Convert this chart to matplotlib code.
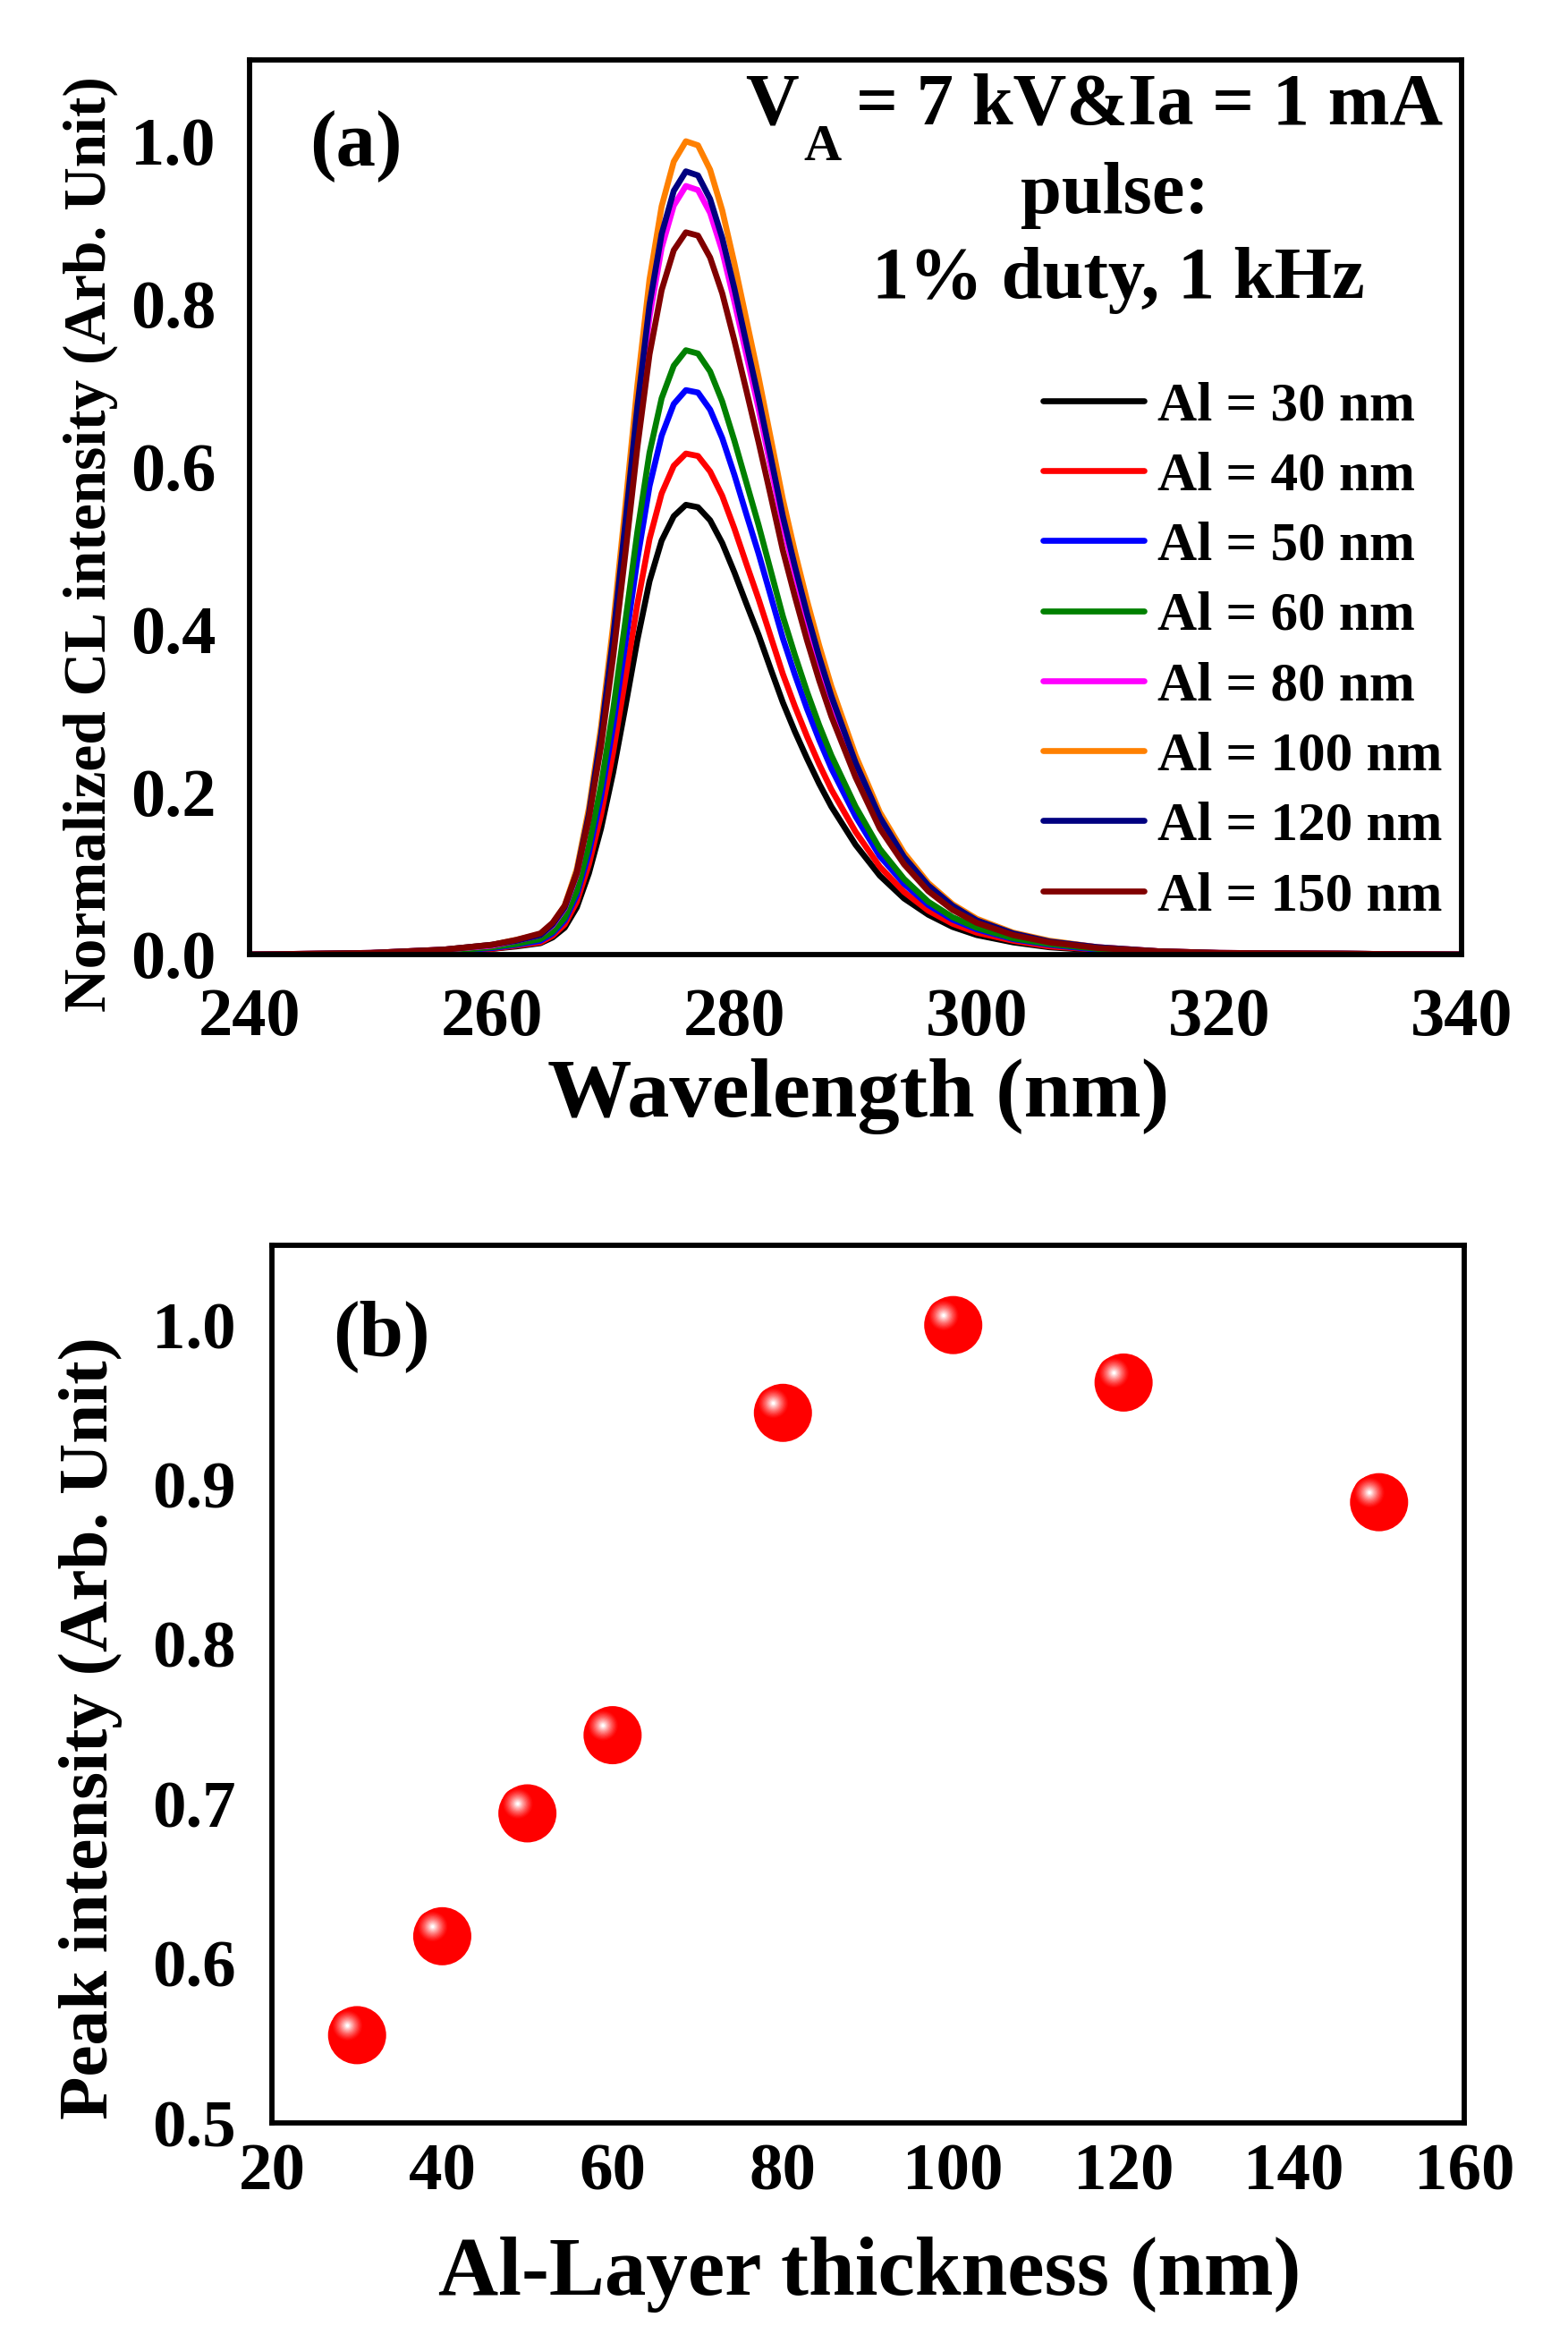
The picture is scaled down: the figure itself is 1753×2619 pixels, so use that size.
import matplotlib
matplotlib.use('Agg')
import matplotlib.pyplot as plt
import matplotlib.transforms as mtransforms
from matplotlib.ticker import FormatStrFormatter
import numpy as np

plt.rcParams['font.family'] = ['Liberation Serif', 'DejaVu Serif']
plt.rcParams['font.weight'] = 'bold'

# ---------------- data: panel (a) CL spectra ----------------
wavelength = [240, 250, 256, 260, 262, 264, 265, 266, 267, 268, 269, 270, 271, 272,
              273, 274, 275, 276, 277, 278, 279, 280, 281, 282, 283, 284, 285, 286,
              287, 288, 290, 292, 294, 296, 298, 300, 303, 306, 310, 315, 320, 330, 340]

cl_30 = [0.000, 0.001, 0.003, 0.007, 0.010, 0.014, 0.021, 0.033, 0.058, 0.100, 0.155, 0.224,
         0.304, 0.387, 0.459, 0.509, 0.539, 0.553, 0.550, 0.534, 0.506, 0.470, 0.431, 0.393,
         0.351, 0.310, 0.274, 0.241, 0.210, 0.182, 0.135, 0.097, 0.069, 0.049, 0.034, 0.024,
         0.015, 0.009, 0.005, 0.002, 0.001, 0.001, 0.000]
cl_40 = [0.000, 0.001, 0.004, 0.007, 0.011, 0.015, 0.023, 0.037, 0.065, 0.111, 0.172, 0.249,
         0.339, 0.431, 0.511, 0.567, 0.601, 0.616, 0.613, 0.594, 0.564, 0.524, 0.480, 0.437,
         0.391, 0.345, 0.305, 0.268, 0.234, 0.203, 0.151, 0.108, 0.077, 0.054, 0.038, 0.027,
         0.017, 0.010, 0.006, 0.002, 0.001, 0.001, 0.000]
cl_50 = [0.000, 0.001, 0.004, 0.008, 0.012, 0.017, 0.026, 0.042, 0.073, 0.125, 0.194, 0.281,
         0.382, 0.486, 0.576, 0.638, 0.677, 0.694, 0.691, 0.670, 0.635, 0.590, 0.541, 0.493,
         0.441, 0.389, 0.344, 0.302, 0.264, 0.229, 0.170, 0.121, 0.087, 0.061, 0.043, 0.031,
         0.019, 0.012, 0.006, 0.003, 0.001, 0.001, 0.000]
cl_60 = [0.000, 0.001, 0.004, 0.009, 0.013, 0.019, 0.028, 0.045, 0.078, 0.134, 0.208, 0.301,
         0.409, 0.520, 0.617, 0.684, 0.724, 0.743, 0.739, 0.717, 0.680, 0.632, 0.580, 0.528,
         0.472, 0.416, 0.368, 0.323, 0.282, 0.245, 0.182, 0.130, 0.093, 0.065, 0.046, 0.033,
         0.020, 0.013, 0.007, 0.003, 0.001, 0.001, 0.000]
cl_80 = [0.000, 0.002, 0.006, 0.011, 0.017, 0.024, 0.036, 0.057, 0.099, 0.170, 0.265, 0.383,
         0.520, 0.662, 0.784, 0.869, 0.921, 0.945, 0.940, 0.912, 0.865, 0.803, 0.737, 0.671,
         0.600, 0.529, 0.468, 0.411, 0.359, 0.312, 0.232, 0.165, 0.118, 0.083, 0.059, 0.042,
         0.026, 0.016, 0.009, 0.004, 0.002, 0.001, 0.000]
cl_100 = [0.000, 0.002, 0.006, 0.012, 0.018, 0.025, 0.038, 0.060, 0.105, 0.180, 0.280, 0.405,
          0.550, 0.700, 0.830, 0.920, 0.975, 1.000, 0.995, 0.965, 0.915, 0.850, 0.780, 0.710,
          0.635, 0.560, 0.495, 0.435, 0.380, 0.330, 0.245, 0.175, 0.125, 0.088, 0.062, 0.044,
          0.027, 0.017, 0.009, 0.004, 0.002, 0.001, 0.000]
cl_120 = [0.000, 0.002, 0.006, 0.012, 0.017, 0.024, 0.037, 0.058, 0.101, 0.173, 0.270, 0.390,
          0.530, 0.674, 0.799, 0.886, 0.939, 0.963, 0.958, 0.929, 0.881, 0.819, 0.751, 0.684,
          0.612, 0.539, 0.477, 0.419, 0.366, 0.318, 0.236, 0.169, 0.120, 0.085, 0.060, 0.042,
          0.026, 0.016, 0.009, 0.004, 0.002, 0.001, 0.000]
cl_150 = [0.000, 0.002, 0.006, 0.012, 0.018, 0.026, 0.039, 0.060, 0.100, 0.168, 0.256, 0.366,
          0.492, 0.624, 0.738, 0.817, 0.866, 0.888, 0.884, 0.857, 0.813, 0.755, 0.693, 0.630,
          0.564, 0.497, 0.440, 0.386, 0.337, 0.293, 0.218, 0.155, 0.111, 0.078, 0.055, 0.039,
          0.024, 0.015, 0.008, 0.004, 0.002, 0.001, 0.000]

spectra = [cl_30, cl_40, cl_50, cl_60, cl_80, cl_100, cl_120, cl_150]
legend_labels = ['Al = 30 nm', 'Al = 40 nm', 'Al = 50 nm', 'Al = 60 nm',
                 'Al = 80 nm', 'Al = 100 nm', 'Al = 120 nm', 'Al = 150 nm']
line_colors = ['#000000', '#ff0000', '#0000ff', '#008000',
               '#ff00ff', '#ff8000', '#000080', '#800000']

xticks_a = [240, 260, 280, 300, 320, 340]
yticks_a = [0.0, 0.2, 0.4, 0.6, 0.8, 1.0]

# ---------------- data: panel (b) peak intensity ----------------
thickness = [30, 40, 50, 60, 80, 100, 120, 150]
peak_intensity = [0.555, 0.617, 0.694, 0.743, 0.945, 1.000, 0.964, 0.889]
xticks_b = [20, 40, 60, 80, 100, 120, 140, 160]
yticks_b = [0.5, 0.6, 0.7, 0.8, 0.9, 1.0]

# ---------------- figure ----------------
W, H = 1753, 2619
fig = plt.figure(figsize=(W / 100, H / 100), dpi=100)

def frac_axes(left, top, right, bottom):
    return fig.add_axes([left / W, 1 - bottom / H, (right - left) / W, (bottom - top) / H])

ax_a = frac_axes(279, 67, 1634, 1067)
ax_b = frac_axes(304, 1392, 1637, 2373)

for ax in (ax_a, ax_b):
    for sp in ax.spines.values():
        sp.set_linewidth(4.2)
        sp.set_color('black')

# ----- panel (a) -----
for y, lab, col in zip(spectra, legend_labels, line_colors):
    ax_a.plot(wavelength, y, color=col, lw=4.8, label=lab,
              solid_capstyle='round', solid_joinstyle='round')

ax_a.set_xlim(240, 340)
ax_a.set_ylim(0, 1.1)
ax_a.set_xticks(xticks_a)
ax_a.set_yticks(yticks_a)
ax_a.yaxis.set_major_formatter(FormatStrFormatter('%.1f'))
ax_a.tick_params(axis='both', length=0, labelsize=55)
ax_a.tick_params(axis='x', pad=27)
ax_a.tick_params(axis='y', pad=27)
for t in ax_a.get_xticklabels() + ax_a.get_yticklabels():
    t.set_fontweight('bold')

ax_a.set_xlabel('Wavelength (nm)', fontsize=68, fontweight='bold', va='baseline')
ax_a.xaxis.set_label_coords(0.5026, -0.181)
ax_a.set_ylabel('Normalized CL intensity (Arb. Unit)', fontsize=48.5, fontweight='bold',
                va='baseline', ha='center')
ax_a.yaxis.set_label_coords(-0.1188, 0.459)

ax_a.text(0.0878, 0.882, '(a)', transform=ax_a.transAxes, fontsize=64,
          fontweight='bold', ha='center', va='baseline')

# annotation: V with a lowered subscript A, then the rest of the line
ax_a.text(0.9845, 0.929, '= 7 kV&Ia = 1 mA', transform=ax_a.transAxes,
          fontsize=59.5, fontweight='bold', ha='right', va='baseline')
ax_a.text(0.4531, 0.929, 'V', transform=ax_a.transAxes,
          fontsize=59.5, fontweight='bold', ha='right', va='baseline')
ax_a.text(0.4568, 0.888, 'A', transform=ax_a.transAxes,
          fontsize=42, fontweight='bold', ha='left', va='baseline')
ax_a.text(0.7140, 0.829, 'pulse:', transform=ax_a.transAxes,
          fontsize=59.5, fontweight='bold', ha='center', va='baseline')
ax_a.text(0.7166, 0.734, '1% duty, 1 kHz', transform=ax_a.transAxes,
          fontsize=59.5, fontweight='bold', ha='center', va='baseline')

leg = ax_a.legend(loc='upper left', bbox_to_anchor=(0.6546, 0.641), frameon=False,
                  prop={'size': 44, 'weight': 'bold'}, handlelength=1.85,
                  handletextpad=0.25, labelspacing=0.365, borderpad=0, borderaxespad=0)
for ln in leg.get_lines():
    ln.set_linewidth(4.8)

# ----- panel (b) -----
R_pt = 23.4  # marker radius in points
ax_b.scatter(thickness, peak_intensity, s=(2 * R_pt) ** 2, color='#ff0000',
             edgecolors='none', zorder=3)
n_lev = 14
red = np.array([1.0, 0.0, 0.0])
white = np.array([1.0, 1.0, 1.0])
for k in range(n_lev):
    t = k / (n_lev - 1)
    rad = R_pt * (0.55 - 0.50 * t)
    col = red + (white - red) * (t ** 1.3)
    tr = mtransforms.offset_copy(ax_b.transData, fig=fig,
                                 x=-0.33 * R_pt, y=0.33 * R_pt, units='points')
    ax_b.scatter(thickness, peak_intensity, s=(2 * rad) ** 2, color=col,
                 edgecolors='none', transform=tr, zorder=4 + k)

ax_b.set_xlim(20, 160)
ax_b.set_ylim(0.5, 1.05)
ax_b.set_xticks(xticks_b)
ax_b.set_yticks(yticks_b)
ax_b.yaxis.set_major_formatter(FormatStrFormatter('%.1f'))
ax_b.tick_params(axis='both', length=0, labelsize=54)
ax_b.tick_params(axis='x', pad=16)
ax_b.tick_params(axis='y', pad=29)
for t in ax_b.get_xticklabels() + ax_b.get_yticklabels():
    t.set_fontweight('bold')

ax_b.set_xlabel('Al-Layer thickness (nm)', fontsize=67, fontweight='bold', va='baseline')
ax_b.xaxis.set_label_coords(0.5011, -0.1957)
ax_b.set_ylabel('Peak intensity (Arb. Unit)', fontsize=57, fontweight='bold',
                va='baseline', ha='center')
ax_b.yaxis.set_label_coords(-0.138, 0.4495)

ax_b.text(0.0915, 0.8746, '(b)', transform=ax_b.transAxes, fontsize=64,
          fontweight='bold', ha='center', va='baseline')

fig.savefig('out.png', dpi=100, facecolor='white')
